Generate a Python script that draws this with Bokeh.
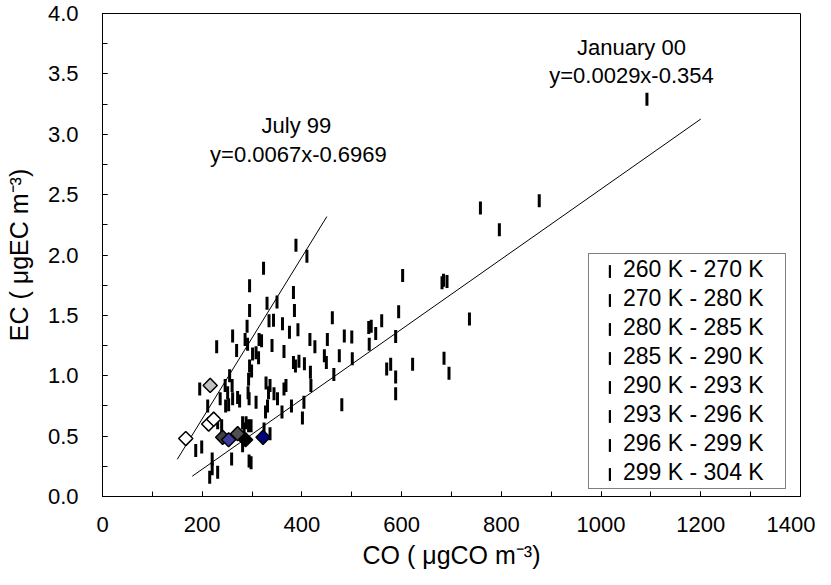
import numpy as np
from bokeh.plotting import figure
from bokeh.models import (SingleIntervalTicker, NumeralTickFormatter, Legend,
                          LegendItem, Range1d)
from bokeh.core.properties import value
from bokeh.embed import file_html
from bokeh.resources import INLINE

FONT = "Liberation Sans"

# ---------------- data ----------------
bin_labels = ["260 K - 270 K", "270 K - 280 K", "280 K - 285 K", "285 K - 290 K",
              "290 K - 293 K", "293 K - 296 K", "296 K - 299 K", "299 K - 304 K"]

co_260 = [1092, 876, 758, 796]
ec_260 = [3.29, 2.45, 2.39, 2.21]

co_270 = [602, 681, 684, 691, 736, 594]
ec_270 = [1.83, 1.77, 1.79, 1.78, 1.47, 1.53]

co_280 = [534, 539, 548, 560, 588, 535, 485, 500, 501, 570, 578, 588, 588, 622, 685, 695]
ec_280 = [1.40, 1.41, 1.35, 1.455, 1.325, 1.26, 1.33, 1.32, 1.14, 1.055, 1.095, 0.99, 0.85, 1.095, 1.145, 1.02]

co_285 = [416, 426, 451, 445, 449, 417, 418, 475, 464, 480, 404, 401, 324, 336, 461]
ec_285 = [1.30, 1.24, 1.30, 1.165, 1.11, 1.03, 0.92, 1.165, 1.01, 0.76, 0.78, 0.65, 0.56, 0.52, 1.48]

co_290 = [364, 383, 387, 394, 405, 328, 333, 336, 344, 351, 364, 368, 331, 327, 360, 379]
ec_290 = [1.20, 1.11, 1.08, 1.12, 1.10, 0.94, 0.86, 0.92, 0.85, 0.81, 0.89, 0.92, 0.75, 0.70, 0.70, 0.75]

co_293 = [295, 293, 299, 255, 260, 246, 251, 261, 271, 275, 247, 253, 292, 294, 308]
ec_293 = [1.08, 0.97, 1.04, 1.00, 0.92, 0.92, 0.86, 0.81, 0.82, 0.79, 0.75, 0.76, 0.86, 0.81, 0.78]

co_296 = [195, 211, 236, 231, 239, 281, 284, 288, 293, 298, 281, 259, 294, 298, 187, 199, 220, 215, 231, 220]
ec_296 = [0.89, 0.75, 0.81, 0.61, 0.585, 0.61, 0.56, 0.61, 0.585, 0.585, 0.42, 0.31, 0.295, 0.28, 0.38, 0.41, 0.31, 0.16, 0.20, 0.23]

co_299 = [388, 410, 323, 295, 383, 330, 350, 295, 385, 290, 334, 343, 361, 261, 375, 392,
          229, 269, 286, 291, 314, 319, 340, 301, 308, 313]
ec_299 = [2.08, 1.99, 1.89, 1.745, 1.69, 1.60, 1.61, 1.54, 1.54, 1.41, 1.455, 1.46, 1.43, 1.33, 1.36, 1.38,
          1.24, 1.21, 1.30, 1.26, 1.30, 1.29, 1.25, 1.18, 1.19, 1.15]

bins_co = [co_260, co_270, co_280, co_285, co_290, co_293, co_296, co_299]
bins_ec = [ec_260, ec_270, ec_280, ec_285, ec_290, ec_293, ec_296, ec_299]

# mean markers (diamonds)
mean_co = [167, 213, 223, 216, 241, 253, 271, 287, 322]
mean_ec = [0.48, 0.60, 0.64, 0.92, 0.49, 0.47, 0.52, 0.47, 0.49]
mean_color = ["#FFFFFF", "#FFFFFF", "#FFFFFF", "#C0C0C0", "#404040",
              "#3C3CA0", "#505050", "#000000", "#000080"]

# regressions
jul_slope, jul_icpt, jul_x = 0.0067, -0.6969, [150, 450]
jan_slope, jan_icpt, jan_x = 0.0029, -0.354, [180, 1200]

x_ticks_interval = 200
y_ticks_interval = 0.5

# ---------------- figure ----------------
p = figure(width=815, height=575, output_backend="svg", toolbar_location=None,
           x_range=Range1d(0, 1400), y_range=Range1d(0, 4),
           min_border_left=102, min_border_right=15, min_border_top=13,
           min_border_bottom=79)
p.grid.visible = False
p.outline_line_color = "black"
p.outline_line_width = 1
p.outline_line_alpha = 1
p.background_fill_color = "white"
p.border_fill_color = "white"

for ax in (p.xaxis[0], p.yaxis[0]):
    ax.major_tick_in = 5
    ax.major_tick_out = 0
    ax.minor_tick_in = 5
    ax.minor_tick_out = 0
    ax.axis_line_color = "black"
    ax.major_tick_line_color = "black"
    ax.minor_tick_line_color = "black"
    ax.major_label_text_font = FONT
    ax.major_label_text_font_size = "22px"
    ax.major_label_text_color = "black"
    ax.axis_label_text_font = FONT
    ax.axis_label_text_font_size = "25px"
    ax.axis_label_text_font_style = "normal"
    ax.axis_label_text_color = "black"

p.xaxis.ticker = SingleIntervalTicker(interval=x_ticks_interval, num_minor_ticks=2)
p.yaxis.ticker = SingleIntervalTicker(interval=y_ticks_interval, num_minor_ticks=2)
p.yaxis.formatter = NumeralTickFormatter(format="0.0")
p.xaxis.major_label_standoff = 20
p.yaxis.major_label_standoff = 24
p.xaxis.axis_label = "CO ( μgCO m⁻³)"
p.yaxis.axis_label = "EC ( μgEC m⁻³)"
p.xaxis.axis_label_standoff = 6
p.yaxis.axis_label_standoff = 12

# regression lines
jx = np.array(jul_x, dtype=float)
p.line(jx, jul_slope * jx + jul_icpt, line_color="black", line_width=1)
nx = np.array(jan_x, dtype=float)
p.line(nx, jan_slope * nx + jan_icpt, line_color="black", line_width=1)

# scatter dashes (vertical bars)
renderers = []
for xs, ys in zip(bins_co, bins_ec):
    r = p.rect(xs, ys, width=3, height=13, width_units="screen",
               height_units="screen", fill_color="black", line_color=None)
    renderers.append(r)

# diamonds
p.scatter(mean_co, mean_ec, marker="square", angle=np.pi / 4, size=10,
          fill_color=mean_color, line_color="black", line_width=1.5)

# annotations
p.text(x=[389, 393], y=[3.07, 2.83], text=["July 99", "y=0.0067x-0.6969"],
       text_align="center", text_baseline="middle", text_font=value(FONT),
       text_font_size="22px", text_color="black")
p.text(x=[1061, 1061], y=[3.72, 3.49], text=["January 00", "y=0.0029x-0.354"],
       text_align="center", text_baseline="middle", text_font=value(FONT),
       text_font_size="22px", text_color="black")

common = dict(margin=0, padding=2, spacing=2, glyph_height=16, label_height=27,
              label_text_font=FONT, label_text_font_size="23px",
              label_text_color="black")

# legend box with labels
legend_a = Legend(items=[LegendItem(label=lab, renderers=[r])
                         for lab, r in zip(bin_labels, renderers)],
                  location=(486, 7), glyph_width=0, label_standoff=32,
                  label_width=160, border_line_color="black", border_line_width=1,
                  background_fill_color="white", background_fill_alpha=1, **common)
p.add_layout(legend_a)

# legend symbols (thin vertical bars)
legend_b = Legend(items=[LegendItem(label=" ", renderers=[r]) for r in renderers],
                  location=(504, 7), glyph_width=3, label_standoff=0,
                  border_line_alpha=0, background_fill_alpha=0, **common)
p.add_layout(legend_b)

open("out.html", "w").write(file_html(p, INLINE))
